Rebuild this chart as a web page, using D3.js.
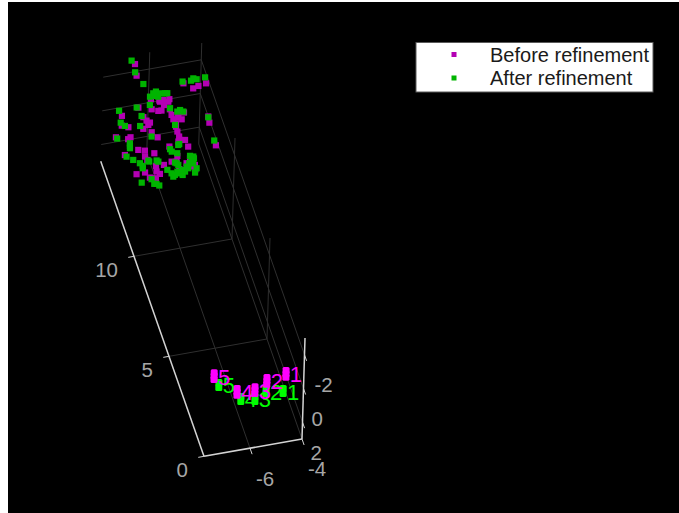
<!DOCTYPE html>
<html>
<head>
<meta charset="utf-8">
<script src="https://cdn.jsdelivr.net/npm/d3@7"></script>
<style>
  html, body { margin: 0; padding: 0; background: #fff; }
  text { font-family: "Liberation Sans", Arial, sans-serif; }
</style>
</head>
<body>
<div id="chart"></div>
<script>
// axis limits and ticks
var xLim = [-7.77, -4];
var yLim = [-3, 3];
var zLim = [0, 14.75];
var xTicks = [-6, -4];
var yTicks = [-2, 0, 2];
var zTicks = [0, 5, 10];
var seriesNames = ['Before refinement', 'After refinement'];
var cameraIds = [1, 2, 3, 4, 5];

// camera centres [x, z] for ids 1..5
var camerasBefore = [[-4.45, 0.83], [-5.23, 0.66], [-5.78, 0.33], [-6.45, 0.39], [-7.08, 1.33]];
var camerasAfter = [[-4.77, 0.05], [-5.39, 0.19], [-5.89, -0.09], [-6.40, 0.03], [-7.02, 0.87]];
var spreadBefore = [-0.2, 0, 0.2];
var spreadAfter = [-0.15, 0.15];

var cloudBefore = [
  [-5.99, 16.68], [-6.08, 16.12], [-5.86, 14.89], [-5.57, 14.76], [-5.42, 14.75], [-5.19, 14.74],
  [-5.46, 14.51], [-5.74, 14.28], [-5.62, 14.27], [-5.96, 14.41], [-6.42, 14.60], [-7.12, 14.35],
  [-6.36, 14.11], [-6.29, 13.92], [-6.19, 13.80], [-6.28, 13.70], [-7.03, 13.76], [-7.25, 13.89],
  [-6.51, 13.56], [-6.25, 13.33], [-6.10, 13.04], [-7.08, 13.27], [-7.19, 13.20], [-7.61, 13.39],
  [-5.30, 14.26], [-5.31, 13.98], [-5.05, 14.00], [-4.83, 13.99], [-5.30, 13.76], [-5.00, 13.69],
  [-5.30, 13.39], [-5.31, 13.15], [-5.31, 12.90], [-5.14, 12.69], [-5.40, 12.67], [-5.11, 12.35],
  [-5.79, 12.51], [-6.96, 12.61], [-6.73, 12.52], [-6.42, 12.32], [-7.51, 12.48], [-6.80, 12.24],
  [-6.76, 12.06], [-5.62, 12.00], [-5.90, 11.78], [-6.22, 11.69], [-6.52, 11.71], [-6.57, 11.44],
  [-6.48, 11.30], [-7.33, 11.48], [-7.00, 11.49], [-6.89, 11.21], [-6.68, 11.13], [-5.19, 11.79],
  [-5.38, 11.58], [-5.10, 11.43], [-5.14, 11.22], [-5.72, 11.36], [-4.00, 13.60], [-4.04, 13.30],
  [-4.09, 12.18], [-4.19, 15.05], [-3.97, 15.12], [-3.66, 15.18], [-4.48, 15.37],
  [-5.10, 13.81], [-5.26, 13.55], [-5.32, 12.73], [-5.56, 14.70], [-5.26, 14.63], [-5.18, 11.37],
  [-5.72, 11.74]
];
var cloudAfter = [
  [-6.07, 16.87], [-6.09, 16.29], [-5.94, 15.67], [-5.58, 15.21], [-5.86, 15.02], [-5.40, 15.08],
  [-5.19, 15.04], [-5.97, 14.63], [-5.56, 14.95], [-7.16, 14.61], [-6.48, 14.62], [-6.41, 14.18],
  [-7.25, 14.04], [-7.14, 13.85], [-6.59, 13.72], [-7.58, 13.32], [-6.31, 13.13], [-7.18, 12.99],
  [-7.24, 12.76], [-5.40, 12.55], [-5.77, 12.25], [-5.59, 12.13], [-7.47, 12.39], [-7.27, 12.18],
  [-6.73, 12.02], [-6.43, 11.96], [-7.07, 11.97], [-7.03, 11.71], [-5.79, 11.71], [-5.70, 11.57],
  [-5.16, 11.90], [-5.05, 11.75], [-5.14, 11.52], [-5.19, 11.07], [-6.16, 11.43], [-5.95, 11.13],
  [-5.75, 11.16], [-5.54, 11.20], [-5.38, 11.33], [-6.05, 11.23], [-7.25, 11.04], [-6.81, 10.88],
  [-6.65, 10.76], [-6.85, 11.12], [-4.49, 15.46], [-4.06, 15.52], [-3.95, 15.45], [-4.17, 15.43],
  [-3.62, 15.47], [-4.01, 13.56], [-4.09, 12.42], [-5.28, 14.31], [-4.94, 14.14], [-5.06, 14.09],
  [-5.31, 13.48],
  [-6.03, 11.06], [-5.82, 11.26], [-5.67, 11.06], [-5.42, 11.42], [-5.16, 11.69], [-5.28, 11.56],
  [-5.64, 11.31], [-5.74, 11.66], [-6.38, 11.89], [-6.71, 11.97], [-5.67, 15.01], [-5.28, 15.05],
  [-5.70, 15.15], [-5.45, 12.51], [-5.80, 12.38], [-7.21, 12.87], [-7.00, 11.82], [-6.73, 10.86],
  [-5.05, 11.84], [-5.08, 11.26], [-4.84, 14.04]
];

var width = 679, height = 513;

var svg = d3.select('#chart').append('svg')
  .attr('width', width)
  .attr('height', height)
  .style('display', 'block');

svg.append('rect')
  .attr('x', 8).attr('y', 2)
  .attr('width', width - 8).attr('height', height - 2)
  .attr('fill', '#000');

// oblique projection, one scale per data axis and screen direction
var xToH = d3.scaleLinear().domain([-4, -6]).range([303.5, 251.5]);
var xToV = d3.scaleLinear().domain([-4, -6]).range([388.5, 397.7]);
var yToH = d3.scaleLinear().domain([0, 1]).range([0, -0.5]);
var yToV = d3.scaleLinear().domain([0, 1]).range([0, 16.83]);
var zToH = d3.scaleLinear().domain([0, 5]).range([0, -35]);
var zToV = d3.scaleLinear().domain([0, 5]).range([0, -100]);

var project = function (x, y, z) {
  return [xToH(x) + yToH(y) + zToH(z), xToV(x) + yToV(y) + zToV(z)];
};

var drawSegment = function (g, a, b, color, w) {
  var p = project(a[0], a[1], a[2]);
  var q = project(b[0], b[1], b[2]);
  g.append('line')
    .attr('x1', p[0]).attr('y1', p[1])
    .attr('x2', q[0]).attr('y2', q[1])
    .attr('stroke', color)
    .attr('stroke-width', w);
};

// grid on floor, back wall and right wall
var grid = svg.append('g');
var gridColor = '#2f2f2f';
var zBack = zLim[1], yFloor = yLim[1], yTop = yLim[0], xLeft = xLim[0], xRight = xLim[1];

zTicks.filter(function (z) { return z > 0; }).forEach(function (z) {
  drawSegment(grid, [xLeft, yFloor, z], [xRight, yFloor, z], gridColor, 1);
  drawSegment(grid, [xRight, yFloor, z], [xRight, yTop, z], gridColor, 1);
});
xTicks.forEach(function (x) {
  drawSegment(grid, [x, yFloor, 0], [x, yFloor, zBack], gridColor, 1);
  drawSegment(grid, [x, yFloor, zBack], [x, yTop, zBack], gridColor, 1);
});
yTicks.forEach(function (y) {
  drawSegment(grid, [xLeft, y, zBack], [xRight, y, zBack], gridColor, 1);
  drawSegment(grid, [xRight, y, zBack], [xRight, y, 0], gridColor, 1);
});

// axis lines and tick marks
var axes = svg.append('g');
var axisColor = '#d4d4d4';
drawSegment(axes, [xLeft, yFloor, 0], [xLeft, yFloor, zBack], axisColor, 1.5);
drawSegment(axes, [xLeft, yFloor, 0], [xRight, yFloor, 0], axisColor, 1.5);
drawSegment(axes, [xRight, yFloor, 0], [xRight, yTop, 0], axisColor, 1.5);

zTicks.forEach(function (z) {
  drawSegment(axes, [xLeft, yFloor, z], [xLeft - 0.22, yFloor, z], axisColor, 1);
});
xTicks.forEach(function (x) {
  drawSegment(axes, [x, yFloor, 0], [x, yFloor, -0.3], axisColor, 1);
});
yTicks.forEach(function (y) {
  drawSegment(axes, [xRight, y, 0], [xRight, y, -0.3], axisColor, 1);
});

// tick labels
var labels = svg.append('g')
  .attr('fill', '#a6a6a6')
  .attr('font-size', 20.5)
  .attr('dominant-baseline', 'central');

zTicks.forEach(function (z) {
  var p = project(xLeft, yFloor, z);
  labels.append('text').attr('x', p[0] - 16).attr('y', p[1] + 13)
    .attr('text-anchor', 'end').text(z);
});
xTicks.forEach(function (x) {
  var p = project(x, yFloor, 0);
  labels.append('text').attr('x', p[0] + 15).attr('y', p[1] + 30)
    .attr('text-anchor', 'middle').text(x);
});
yTicks.forEach(function (y) {
  var p = project(xRight, y, 0);
  labels.append('text').attr('x', p[0] + (y < 0 ? 10 : 8)).attr('y', p[1] + 30)
    .attr('text-anchor', 'start').text(y);
});

// point clouds
var drawCloud = function (data, color) {
  svg.append('g').selectAll('rect')
    .data(data)
    .enter()
    .append('rect')
    .attr('x', function (d) { return project(d[0], 0, d[1])[0] - 3.1; })
    .attr('y', function (d) { return project(d[0], 0, d[1])[1] - 3.1; })
    .attr('width', 6.2)
    .attr('height', 6.2)
    .attr('fill', color);
};
drawCloud(cloudBefore, '#b400b4');
drawCloud(cloudAfter, '#00b400');

// cameras and their numbers
var drawCameras = function (data, spread, color) {
  var g = svg.append('g');
  data.forEach(function (cam, i) {
    g.selectAll(null)
      .data(spread)
      .enter()
      .append('rect')
      .attr('x', function (s) { return project(cam[0], s, cam[1])[0] - 3.5; })
      .attr('y', function (s) { return project(cam[0], s, cam[1])[1] - 3.5; })
      .attr('width', 7)
      .attr('height', 7)
      .attr('rx', 1.5)
      .attr('fill', color);
    var p = project(cam[0], 0, cam[1]);
    g.append('text')
      .attr('x', p[0] + 10)
      .attr('y', p[1] + 1)
      .attr('text-anchor', 'middle')
      .attr('dominant-baseline', 'central')
      .attr('font-size', 22)
      .attr('fill', color)
      .text(cameraIds[i]);
  });
};
drawCameras(camerasAfter, spreadAfter, '#00ff00');
drawCameras(camerasBefore, spreadBefore, '#ff00ff');

// legend
var legend = svg.append('g');
legend.append('rect')
  .attr('x', 416).attr('y', 42.5)
  .attr('width', 237).attr('height', 49.5)
  .attr('fill', '#fff')
  .attr('stroke', '#5a5a5a')
  .attr('stroke-width', 1);

var legendColors = ['#b400b4', '#00b400'];
var legendRows = [54.5, 78];
seriesNames.forEach(function (name, i) {
  legend.append('rect')
    .attr('x', 451.5).attr('y', legendRows[i] - 2.5)
    .attr('width', 5).attr('height', 5)
    .attr('fill', legendColors[i]);
  legend.append('text')
    .attr('x', 490).attr('y', legendRows[i])
    .attr('dominant-baseline', 'central')
    .attr('font-size', 20)
    .attr('fill', '#1a1a1a')
    .text(name);
});
</script>
</body>
</html>
